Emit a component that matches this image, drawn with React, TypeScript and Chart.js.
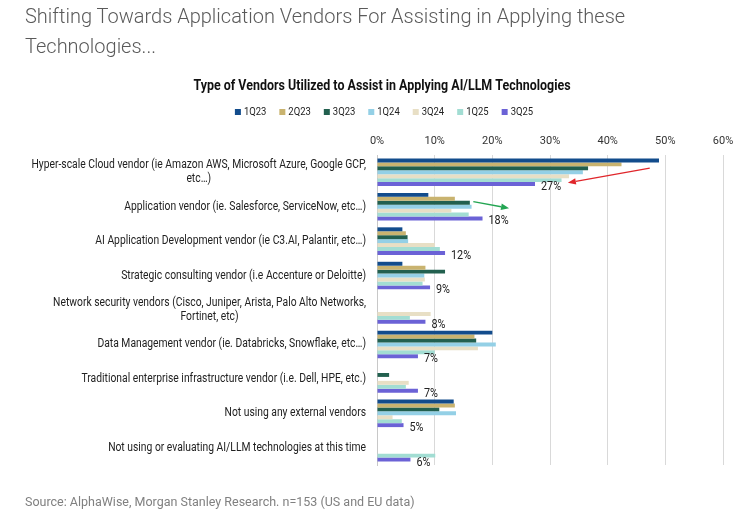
import React, { useEffect, useRef } from "react";
import { Chart, registerables } from "chart.js";

Chart.register(...registerables);

const categories: string[][] = [
  ["Hyper-scale Cloud vendor (ie Amazon AWS, Microsoft Azure, Google GCP,", "etc…)"],
  ["Application vendor (ie. Salesforce, ServiceNow, etc…)"],
  ["AI Application Development vendor (ie C3.AI, Palantir, etc…)"],
  ["Strategic consulting vendor (i.e Accenture or Deloitte)"],
  ["Network security vendors (Cisco, Juniper, Arista, Palo Alto Networks,", "Fortinet, etc)"],
  ["Data Management vendor (ie. Databricks, Snowflake, etc…)"],
  ["Traditional enterprise infrastructure vendor (i.e. Dell, HPE, etc.)"],
  ["Not using any external vendors"],
  ["Not using or evaluating AI/LLM technologies at this time"],
];

const seriesLabels = ["1Q23", "2Q23", "3Q23", "1Q24", "3Q24", "1Q25", "3Q25"];

const q1_23 = [48.9, 8.9, 4.4, 4.4, null, 20.0, null, 13.3, null];
const q2_23 = [42.4, 13.5, 5.0, 8.4, null, 16.9, null, 13.5, null];
const q3_23 = [36.6, 16.1, 5.3, 11.8, null, 17.2, 2.1, 10.8, null];
const q1_24 = [35.7, 16.4, 5.4, 8.2, null, 20.6, null, 13.7, null];
const q3_24 = [33.3, 12.9, 10.0, 8.3, 9.3, 17.5, 5.5, 2.7, null];
const q1_25 = [32.0, 15.9, 10.9, 7.9, 5.7, 10.0, 5.0, 4.3, 10.1];
const q3_25 = [27.4, 18.3, 11.8, 9.2, 8.4, 7.1, 7.1, 4.6, 5.8];

const xTickValues = [0, 10, 20, 30, 40, 50, 60];

const seriesColors = ["#124c8c", "#c9b36f", "#22604f", "#94d0e6", "#e8dfc5", "#a2ddd3", "#6b62d6"];

const chartTitle = "Type of Vendors Utilized to Assist in Applying AI/LLM Technologies";

const FONT = "Roboto, 'Noto Sans', sans-serif";
const SX = 0.86;

function drawCondensed(ctx: CanvasRenderingContext2D, text: string, x: number, y: number, align: CanvasTextAlign, sx: number) {
  ctx.save();
  ctx.translate(x, y);
  ctx.scale(sx, 1);
  ctx.textAlign = align;
  ctx.textBaseline = "middle";
  ctx.fillText(text, 0, 0);
  ctx.restore();
}

function drawArrow(ctx: CanvasRenderingContext2D, x1: number, y1: number, x2: number, y2: number, color: string) {
  const ang = Math.atan2(y2 - y1, x2 - x1);
  const head = 8;
  const wing = 3.2;
  ctx.save();
  ctx.strokeStyle = color;
  ctx.fillStyle = color;
  ctx.lineWidth = 1.3;
  ctx.beginPath();
  ctx.moveTo(x1, y1);
  ctx.lineTo(x2 - head * Math.cos(ang), y2 - head * Math.sin(ang));
  ctx.stroke();
  ctx.beginPath();
  ctx.moveTo(x2, y2);
  ctx.lineTo(x2 - head * Math.cos(ang) + wing * Math.sin(ang), y2 - head * Math.sin(ang) - wing * Math.cos(ang));
  ctx.lineTo(x2 - head * Math.cos(ang) - wing * Math.sin(ang), y2 - head * Math.sin(ang) + wing * Math.cos(ang));
  ctx.closePath();
  ctx.fill();
  ctx.restore();
}

const decorPlugin = {
  id: "decor",
  afterDraw(chart: any) {
    const ctx: CanvasRenderingContext2D = chart.ctx;
    const xs = chart.scales.x;
    const ys = chart.scales.y;
    const area = chart.chartArea;

    // Title
    ctx.save();
    ctx.fillStyle = "#111";
    ctx.font = `bold 15px ${FONT}`;
    drawCondensed(ctx, chartTitle, 382, 86, "center", 0.83);
    ctx.restore();

    // Legend
    ctx.save();
    ctx.font = `11px ${FONT}`;
    const box = 6;
    const gapBox = 3;
    const gapItem = 13;
    const widths = seriesLabels.map((l) => ctx.measureText(l).width * SX);
    const total = widths.reduce((a, w) => a + box + gapBox + w, 0) + gapItem * (seriesLabels.length - 1);
    let lx = 384 - total / 2;
    const ly = 112;
    seriesLabels.forEach((l, i) => {
      ctx.fillStyle = seriesColors[i];
      ctx.fillRect(lx, ly - box / 2, box, box);
      ctx.fillStyle = "#222";
      drawCondensed(ctx, l, lx + box + gapBox, ly, "left", SX);
      lx += box + gapBox + widths[i] + gapItem;
    });
    ctx.restore();

    // Category labels
    ctx.save();
    ctx.font = `12px ${FONT}`;
    ctx.fillStyle = "#222";
    const right = area.left - 11;
    const lh = 13.5;
    (chart.data.labels as string[][]).forEach((lines, i) => {
      const cy = ys.getPixelForValue(i);
      const ws = lines.map((t) => ctx.measureText(t).width * SX);
      const bw = Math.max(...ws);
      lines.forEach((t, j) => {
        const y = cy - ((lines.length - 1) * lh) / 2 + j * lh;
        drawCondensed(ctx, t, right - bw / 2, y, "center", SX);
      });
    });
    ctx.restore();

    // Value labels on last series
    const lastIdx = chart.data.datasets.length - 1;
    const meta = chart.getDatasetMeta(lastIdx);
    ctx.save();
    ctx.font = `12px ${FONT}`;
    ctx.fillStyle = "#222";
    meta.data.forEach((bar: any, i: number) => {
      const v = chart.data.datasets[lastIdx].data[i];
      if (v == null) return;
      drawCondensed(ctx, `${Math.round(v)}%`, bar.x + 6, bar.y + 3, "left", 0.9);
    });
    ctx.restore();

    // Arrows
    const c0 = ys.getPixelForValue(0);
    const c1 = ys.getPixelForValue(1);
    drawArrow(ctx, xs.getPixelForValue(47.3), c0 - 4, xs.getPixelForValue(33.1), c0 + 10.5, "#e0262b");
    drawArrow(ctx, xs.getPixelForValue(16.7), c1 - 5, xs.getPixelForValue(22.9), c1 + 1.5, "#23a552");
  },
};

export default function App() {
  const ref = useRef<HTMLCanvasElement | null>(null);

  useEffect(() => {
    if (!ref.current) return;
    const series = [q1_23, q2_23, q3_23, q1_24, q3_24, q1_25, q3_25];
    const chart = new Chart(ref.current, {
      type: "bar",
      data: {
        labels: categories as any,
        datasets: series.map((d, i) => ({
          label: seriesLabels[i],
          data: d as any,
          backgroundColor: seriesColors[i],
          borderWidth: 0,
          categoryPercentage: 0.8,
          barPercentage: 1.0,
        })),
      },
      options: {
        indexAxis: "y",
        animation: false,
        responsive: false,
        devicePixelRatio: 1,
        layout: { padding: { top: 135, left: 377, right: 33, bottom: 47 } },
        plugins: {
          legend: { display: false },
          title: { display: false },
          tooltip: { enabled: false },
        },
        scales: {
          x: {
            position: "top",
            min: 0,
            max: 60,
            afterBuildTicks: (s: any) => {
              s.ticks = xTickValues.map((v) => ({ value: v }));
            },
            afterFit: (s: any) => {
              s.height = 20;
            },
            ticks: {
              padding: 7,
              color: "#333",
              font: { family: FONT, size: 11 },
              callback: (v: any) => `${v}%`,
            },
            grid: { color: "#d9d9d9", drawTicks: false, lineWidth: 1 },
            border: { display: false },
          },
          y: {
            ticks: { display: false },
            grid: { display: false },
            border: { display: true, color: "#c8c8c8" },
            afterFit: (s: any) => {
              s.width = 0;
            },
          },
        },
      },
      plugins: [decorPlugin],
    });
    return () => chart.destroy();
  }, []);

  return (
    <div style={{ position: "absolute", left: 0, top: 0, width: 756, height: 512, background: "#fff", overflow: "hidden" }}>
      <canvas ref={ref} width={756} height={512} style={{ position: "absolute", left: 0, top: 0, width: 756, height: 512 }} />
      <div
        style={{
          position: "absolute",
          left: 25,
          top: 1,
          fontFamily: FONT,
          fontWeight: 300,
          fontSize: 20,
          lineHeight: "30px",
          color: "#5a5a5a",
          whiteSpace: "nowrap",
        }}
      >
        Shifting Towards Application Vendors For Assisting in Applying these
        <br />
        Technologies...
      </div>
      <div
        style={{
          position: "absolute",
          left: 25,
          top: 494,
          fontFamily: FONT,
          fontSize: 12.5,
          lineHeight: "16px",
          color: "#808080",
          whiteSpace: "nowrap",
        }}
      >
        Source: AlphaWise, Morgan Stanley Research. n=153 (US and EU data)
      </div>
    </div>
  );
}
